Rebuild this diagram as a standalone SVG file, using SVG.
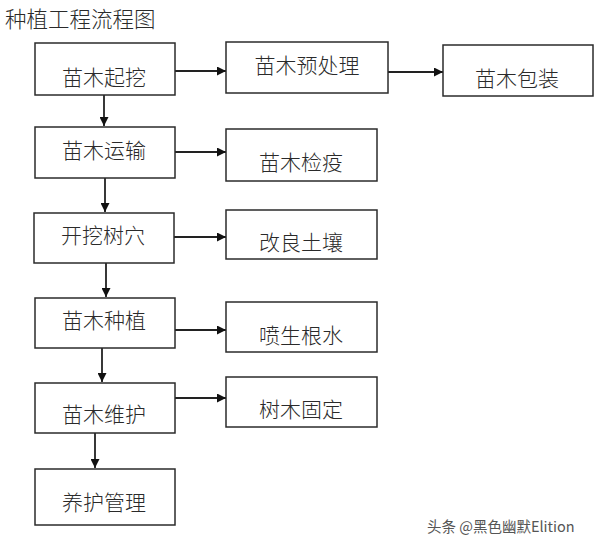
<svg xmlns="http://www.w3.org/2000/svg" width="595" height="546" viewBox="0 0 595 546">
<style>
.box{fill:#fff;stroke:#2b2b2b;stroke-width:1.5}
.t{font-family:"Noto Sans CJK SC","Liberation Sans",sans-serif;font-size:21px;font-weight:300;fill:#2a2a2a;text-anchor:middle;dominant-baseline:central}
.c{stroke:#222;stroke-width:1.8;fill:none;marker-end:url(#ah)}
</style>
<defs>
<marker id="ah" viewBox="0 0 10 10" refX="10" refY="5" markerWidth="9" markerHeight="9" markerUnits="userSpaceOnUse" orient="auto">
<path d="M0,0 L10,5 L0,10 z" fill="#111"/>
</marker>
</defs>
<rect width="595" height="546" fill="#fff"/>
<text x="5" y="17" style="font-family:'Noto Sans CJK SC','Liberation Sans',sans-serif;font-size:21.5px;font-weight:300;fill:#2a2a2a;dominant-baseline:central">种植工程流程图</text>
<g id="connectors">
<line class="c" x1="104" y1="95" x2="104" y2="126"/>
<line class="c" x1="105" y1="178" x2="105" y2="212"/>
<line class="c" x1="106" y1="263" x2="106" y2="297"/>
<line class="c" x1="102" y1="348" x2="102" y2="382"/>
<line class="c" x1="95" y1="433" x2="95" y2="468"/>
<line class="c" x1="175" y1="71" x2="226" y2="71"/>
<line class="c" x1="388" y1="72" x2="443" y2="72"/>
<line class="c" x1="175" y1="152" x2="226" y2="152"/>
<line class="c" x1="174" y1="237" x2="226" y2="237"/>
<line class="c" x1="175" y1="330" x2="226" y2="330"/>
<line class="c" x1="175" y1="398" x2="226" y2="398"/>
</g>
<g id="n1"><rect class="box" x="35" y="43" width="140" height="52"/><text class="t" x="104" y="76">苗木起挖</text></g>
<g id="n2"><rect class="box" x="35" y="127" width="140" height="51"/><text class="t" x="104" y="149">苗木运输</text></g>
<g id="n3"><rect class="box" x="34" y="213" width="140" height="50"/><text class="t" x="103" y="234">开挖树穴</text></g>
<g id="n4"><rect class="box" x="35" y="298" width="140" height="50"/><text class="t" x="104" y="319">苗木种植</text></g>
<g id="n5"><rect class="box" x="35" y="383" width="140" height="50"/><text class="t" x="104" y="413">苗木维护</text></g>
<g id="n6"><rect class="box" x="35" y="469" width="140" height="56"/><text class="t" x="104" y="501">养护管理</text></g>
<g id="n7"><rect class="box" x="226" y="42" width="162" height="51"/><text class="t" x="307" y="64">苗木预处理</text></g>
<g id="n8"><rect class="box" x="443" y="45" width="150" height="51"/><text class="t" x="517" y="77">苗木包装</text></g>
<g id="n9"><rect class="box" x="226" y="129" width="151" height="52"/><text class="t" x="301" y="161">苗木检疫</text></g>
<g id="n10"><rect class="box" x="226" y="210" width="151" height="49"/><text class="t" x="301" y="241">改良土壤</text></g>
<g id="n11"><rect class="box" x="226" y="302" width="151" height="50"/><text class="t" x="301" y="334">喷生根水</text></g>
<g id="n12"><rect class="box" x="226" y="377" width="151" height="50"/><text class="t" x="301" y="408">树木固定</text></g>
<text x="427" y="525" style="font-family:'Noto Sans CJK SC','Liberation Sans',sans-serif;font-size:14.5px;fill:#555;dominant-baseline:central">头条 @黑色幽默Elition</text>
</svg>
